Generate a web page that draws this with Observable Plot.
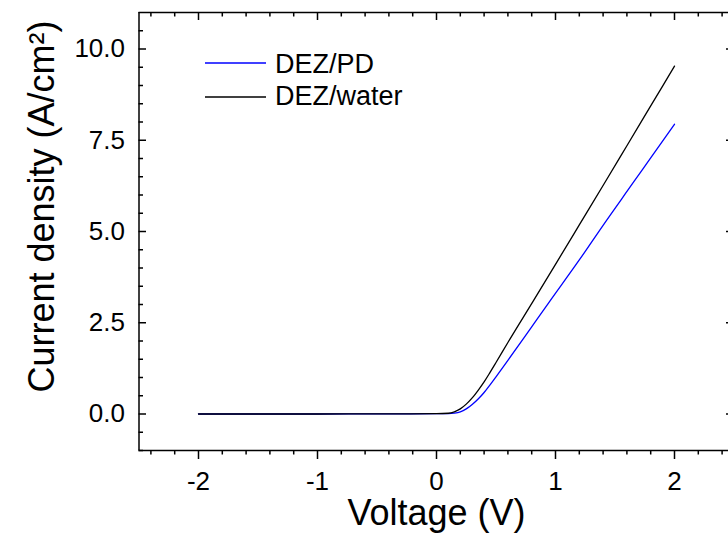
<!DOCTYPE html>
<html>
<head>
<meta charset="utf-8">
<script src="https://cdn.jsdelivr.net/npm/d3@7"></script>
<script src="https://cdn.jsdelivr.net/npm/@observablehq/plot@0.6"></script>
<style>
  html, body { margin: 0; padding: 0; background: #fff; }
  #chart { width: 728px; height: 546px; }
</style>
</head>
<body>
<div id="chart"></div>
<script>
// Series names and colours
const seriesNames = ["DEZ/PD", "DEZ/water"];
const seriesColors = ["#0000ff", "#000000"];

// DEZ/PD (blue)
const pdVoltage = [-2, -1.5, -1, -0.5, 0, 0.1, 0.15, 0.2, 0.25, 0.3, 0.35, 0.4, 0.45, 0.5, 0.6, 0.8, 0.95, 1.2, 1.4, 1.66, 1.8, 2.0];
const pdCurrent = [0, 0, 0, 0.003, 0.008, 0.012, 0.025, 0.06, 0.14, 0.26, 0.41, 0.59, 0.8, 1.02, 1.47, 2.39, 3.08, 4.22, 5.17, 6.37, 7.02, 7.94];

// DEZ/water (black)
const waterVoltage = [-2, -1.5, -1, -0.5, 0, 0.1, 0.15, 0.2, 0.25, 0.3, 0.35, 0.4, 0.45, 0.5, 0.6, 0.81, 1.0, 1.2, 1.42, 1.6, 1.8, 2.0];
const waterCurrent = [0, 0, 0, 0.003, 0.008, 0.02, 0.06, 0.14, 0.27, 0.44, 0.65, 0.88, 1.14, 1.41, 1.96, 3.08, 4.1, 5.18, 6.37, 7.35, 8.44, 9.53];

// Axis tick labels
const xTickValues = [-2, -1, 0, 1, 2];
const yTickValues = [0, 2.5, 5, 7.5, 10];
const xTitle = "Voltage (V)";
const yTitle = "Current density (A/cm\u00B2)";

const xDomain = [-2.5, 2.5];
const yDomain = [-1, 11];
const xRange = [138.5, 733.5];
const yRange = [450, 12];

const data = [
  ...pdVoltage.map((v, i) => ({V: v, J: pdCurrent[i], s: seriesNames[0]})),
  ...waterVoltage.map((v, i) => ({V: v, J: waterCurrent[i], s: seriesNames[1]}))
];

const xMinor = d3.range(-24, 25, 2).map(d => d / 10).filter(d => !xTickValues.includes(d));
const yMinor = d3.range(-2, 22, 1).map(d => d / 2).filter(d => !yTickValues.includes(d));

const kx = (xDomain[1] - xDomain[0]) / (xRange[1] - xRange[0]); // units per px
const ky = (yDomain[1] - yDomain[0]) / (yRange[0] - yRange[1]);

const font = "'Liberation Sans', Arial, sans-serif";
const sw = 1.5;

const svg = Plot.plot({
  width: 728,
  height: 546,
  marginTop: 12,
  marginLeft: 137,
  marginRight: 0,
  marginBottom: 96,
  style: {fontFamily: font, background: "#fff", overflow: "visible"},
  x: {domain: xDomain, range: xRange, axis: null},
  y: {domain: yDomain, range: yRange, axis: null},
  color: {domain: seriesNames, range: seriesColors},
  marks: [
    // data lines
    Plot.line(data, {x: "V", y: "J", z: "s", stroke: "s", strokeWidth: 1.3, curve: "monotone-x"}),
    // frame
    Plot.ruleY([yDomain[0], yDomain[1]], {x1: xDomain[0], x2: xDomain[1], stroke: "#000", strokeWidth: sw}),
    Plot.ruleX([xDomain[0], xDomain[1]], {y1: yDomain[0], y2: yDomain[1], stroke: "#000", strokeWidth: sw}),
    // bottom ticks (outward)
    Plot.ruleX(xTickValues, {y1: yDomain[0], y2: yDomain[0] - 9 * ky, stroke: "#000", strokeWidth: sw}),
    Plot.ruleX(xMinor, {y1: yDomain[0], y2: yDomain[0] - 4.5 * ky, stroke: "#000", strokeWidth: sw}),
    // top ticks (inward)
    Plot.ruleX(xTickValues, {y1: yDomain[1], y2: yDomain[1] - 8 * ky, stroke: "#000", strokeWidth: sw}),
    Plot.ruleX(xMinor, {y1: yDomain[1], y2: yDomain[1] - 4.5 * ky, stroke: "#000", strokeWidth: sw}),
    // left ticks (inward)
    Plot.ruleY(yTickValues, {x1: xDomain[0], x2: xDomain[0] + 7.5 * kx, stroke: "#000", strokeWidth: sw}),
    Plot.ruleY(yMinor, {x1: xDomain[0], x2: xDomain[0] + 4.5 * kx, stroke: "#000", strokeWidth: sw}),
    // right ticks (inward)
    Plot.ruleY(yTickValues, {x1: xDomain[1], x2: xDomain[1] - 7.5 * kx, stroke: "#000", strokeWidth: sw}),
    Plot.ruleY(yMinor, {x1: xDomain[1], x2: xDomain[1] - 4.5 * kx, stroke: "#000", strokeWidth: sw}),
    // tick labels
    Plot.text(xTickValues, {x: d => d, y: yDomain[0], dy: 31, text: d => String(d).replace("\u2212", "-"), fontSize: 26, fill: "#000"}),
    Plot.text(yTickValues, {x: xDomain[0], y: d => d, dx: -14, textAnchor: "end", text: d => d3.format(".1f")(d), fontSize: 26, fill: "#000"}),
    // axis titles
    Plot.text([xTitle], {frameAnchor: "bottom", textAnchor: "middle", lineAnchor: "middle", dx: 3.5, dy: 63, text: d => d, fontSize: 36, fill: "#000"}),
    Plot.text([yTitle], {frameAnchor: "left", textAnchor: "middle", lineAnchor: "middle", dx: -95, dy: -25, rotate: -90, text: d => d, fontSize: 36, fill: "#000"})
  ]
});

// Legend (inside plot, top-left)
const lg = d3.select(svg).append("g").attr("font-family", font).attr("font-size", 27).attr("text-anchor", "start");
const legendRows = [{y: 63, ty: 64}, {y: 97, ty: 96}];
seriesNames.forEach((name, i) => {
  lg.append("line").attr("x1", 205).attr("x2", 266).attr("y1", legendRows[i].y).attr("y2", legendRows[i].y)
    .attr("stroke", seriesColors[i]).attr("stroke-width", 1.3);
  lg.append("text").attr("x", 275).attr("y", legendRows[i].ty).attr("dy", "0.35em").attr("text-anchor", "start").attr("fill", "#000").text(name);
});

document.getElementById("chart").appendChild(svg);
</script>
</body>
</html>
